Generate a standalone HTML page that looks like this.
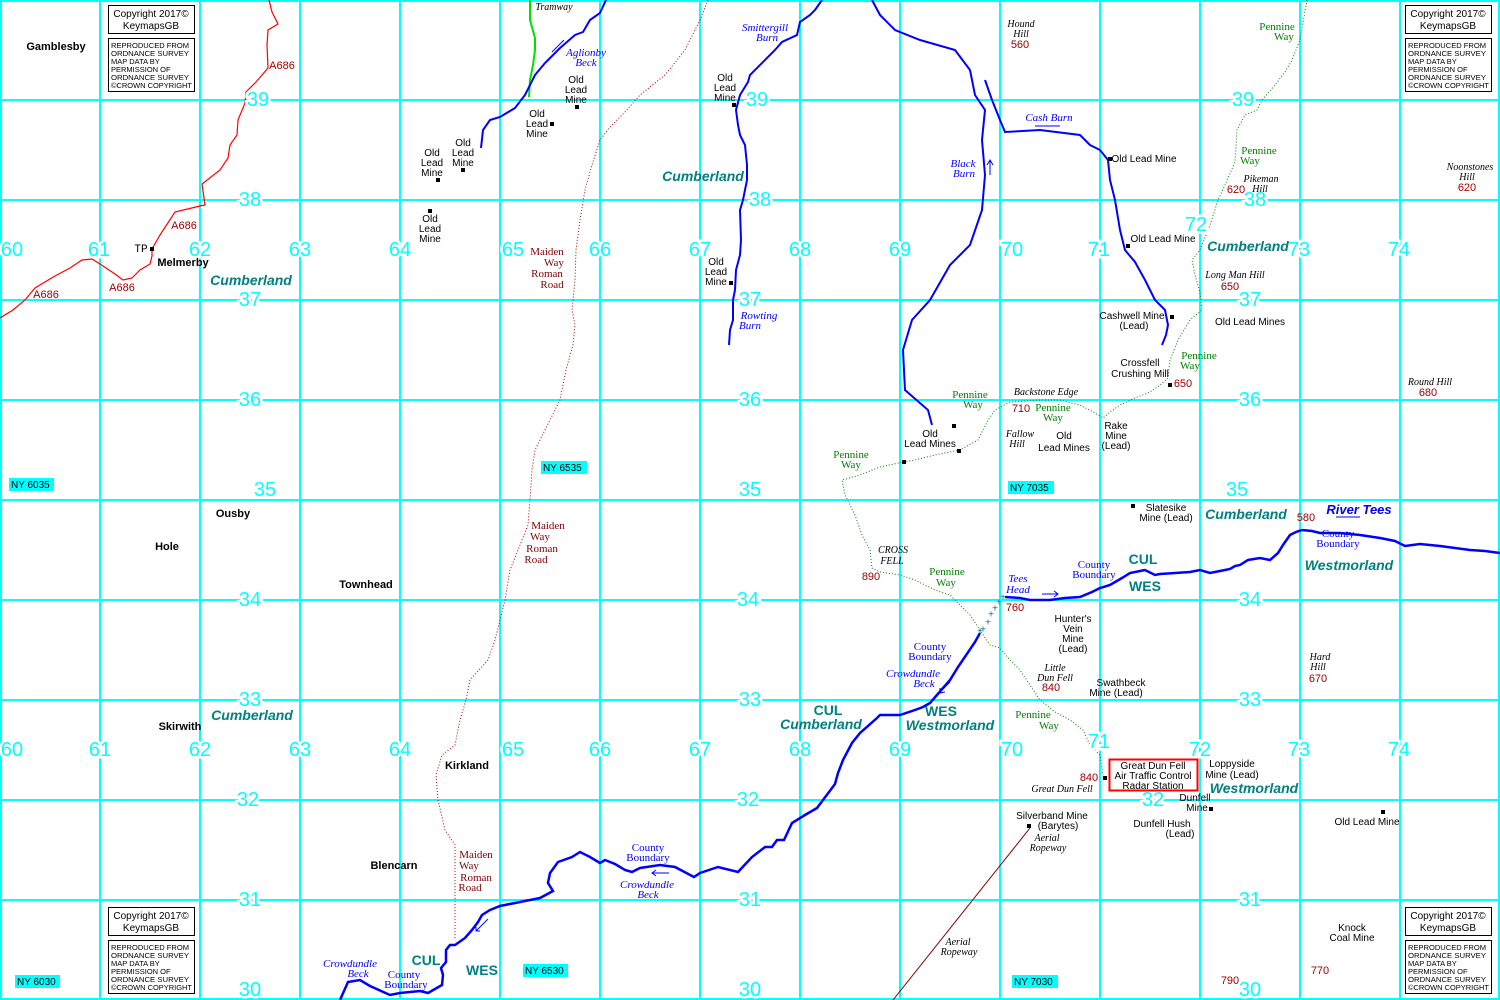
<!DOCTYPE html>
<html><head><meta charset="utf-8"><style>
html,body{margin:0;padding:0;background:#fff;}
svg{display:block;font-family:"Liberation Sans",Arial,sans-serif;}
.g{fill:#00ffff;font-size:20px;text-anchor:middle;dominant-baseline:central;stroke:#fff;stroke-width:5px;paint-order:stroke;}
.t{font-size:10px;fill:#000;text-anchor:middle;}
.b{font-size:11px;font-weight:bold;fill:#000;text-anchor:middle;}
.r{font-size:11px;fill:#0000ff;font-style:italic;text-anchor:middle;font-family:"Liberation Serif",serif;}
.rs{font-size:11px;fill:#0000ff;text-anchor:middle;font-family:"Liberation Serif",serif;}
.h{font-size:11px;fill:#a00000;text-anchor:middle;}
.m{font-size:11px;fill:#800000;text-anchor:middle;font-family:"Liberation Serif",serif;}
.p{font-size:11px;fill:#008000;text-anchor:middle;font-family:"Liberation Serif",serif;}
.c{font-size:14px;fill:#008080;font-weight:bold;font-style:italic;text-anchor:middle;}
.cc{font-size:14px;fill:#008080;font-weight:bold;text-anchor:middle;}
.i{font-size:10px;fill:#000;font-style:italic;text-anchor:middle;font-family:"Liberation Serif",serif;}
.ny{font-size:10px;fill:#000;}
.cp{font-size:10px;fill:#000;}
.cs{font-size:7.5px;fill:#000;}
</style></head><body>
<svg width="1500" height="1000" viewBox="0 0 1500 1000" xmlns="http://www.w3.org/2000/svg">
<rect width="1500" height="1000" fill="#fff"/>
<g stroke="#00ffff" stroke-width="2">
<line x1="1" y1="0" x2="1" y2="1000"/><line x1="100" y1="0" x2="100" y2="1000"/><line x1="200" y1="0" x2="200" y2="1000"/><line x1="300" y1="0" x2="300" y2="1000"/><line x1="400" y1="0" x2="400" y2="1000"/><line x1="500" y1="0" x2="500" y2="1000"/><line x1="600" y1="0" x2="600" y2="1000"/><line x1="700" y1="0" x2="700" y2="1000"/><line x1="800" y1="0" x2="800" y2="1000"/><line x1="900" y1="0" x2="900" y2="1000"/><line x1="1000" y1="0" x2="1000" y2="1000"/><line x1="1100" y1="0" x2="1100" y2="1000"/><line x1="1200" y1="0" x2="1200" y2="1000"/><line x1="1300" y1="0" x2="1300" y2="1000"/><line x1="1400" y1="0" x2="1400" y2="1000"/><line x1="1499" y1="0" x2="1499" y2="1000"/>
<line x1="0" y1="1" x2="1500" y2="1"/><line x1="0" y1="100" x2="1500" y2="100"/><line x1="0" y1="200" x2="1500" y2="200"/><line x1="0" y1="300" x2="1500" y2="300"/><line x1="0" y1="400" x2="1500" y2="400"/><line x1="0" y1="500" x2="1500" y2="500"/><line x1="0" y1="600" x2="1500" y2="600"/><line x1="0" y1="700" x2="1500" y2="700"/><line x1="0" y1="800" x2="1500" y2="800"/><line x1="0" y1="900" x2="1500" y2="900"/><line x1="0" y1="999" x2="1500" y2="999"/>
</g>

<polyline fill="none" stroke="#ff0000" stroke-width="1.2" points="0,318 13,310 25,300 35,288 55,276 70,268 82,260 92,259 100,264 115,274 123,280 132,278 140,270 150,264 152,256 152,249 160,235 175,212 200,206 205,205 202,184 220,170 228,158 230,145 237,135 238,120 245,103 246,92 256,82 268,68 267,45 268,30 278,24 272,12 269,0"/>
<polyline fill="none" stroke="#b00000" stroke-width="1" stroke-dasharray="1,2" points="708,0 700,20 685,50 665,75 640,95 625,112 610,127 600,140 592,165 585,190 580,220 576,250 575,280 572,310 575,325 573,345 566,370 560,400 545,430 535,450 532,470 530,500 528,525 520,545 510,570 505,600 495,640 488,660 470,680 466,700 460,720 455,745 442,755 436,775 438,800 445,830 455,845 455,940"/>
<polyline fill="none" stroke="#00e000" stroke-width="2" points="530,0 530,20 535,38 535,50 533,65 530,80 529,97"/>
<polyline fill="none" stroke="#0000ff" stroke-width="2" points="606,0 600,13 590,20 583,32 575,35 560,48 545,63 535,75 525,95 515,108 500,117 490,120 483,130 481,148"/>
<line x1="552" y1="52" x2="564" y2="40" stroke="#0000ff"/>
<polyline fill="none" stroke="#0000ff" stroke-width="2" points="822,0 815,10 810,15 800,22 797,35 782,42 775,50 750,75 748,82 740,95 736,110 738,125 740,135 745,145 747,165 747,180 743,200 740,210 741,240 740,255 736,270 735,290 733,300 733,320 730,330 729,345"/>
<polyline fill="none" stroke="#0000ff" stroke-width="2" points="872,0 880,15 895,30 920,40 955,50 970,70 975,95 985,110 982,140 985,175 982,210 970,245 950,265 930,300 912,320 903,350 905,390 928,410 932,425"/>
<polyline fill="none" stroke="#0000ff" stroke-width="2" points="985,80 992,100 1000,120 1005,132 1040,130 1080,135 1090,145 1100,150 1108,160 1110,180 1115,200 1120,230 1125,250 1135,262 1145,280 1155,300 1165,310 1168,325 1166,335 1162,345"/>
<line x1="990" y1="175" x2="990" y2="160" stroke="#0000ff"/><polyline points="987,165 990,160 993,165" fill="none" stroke="#0000ff"/>
<line x1="1060" y1="126" x2="1035" y2="126" stroke="#0000ff"/>
<polyline fill="none" stroke="#0000ff" stroke-width="2.5" points="340,1000 348,982 360,980 370,986 390,995 400,993 420,991 428,993 442,985 443,975 441,968 446,962 446,950 450,945 455,945 465,938 472,930 478,922 482,915 490,910 500,906 510,904 540,898 553,891 548,883 550,873 558,862 572,857 580,852 590,857 600,863 605,860 615,864 625,870 632,872 640,868 660,865 675,867 694,877 700,873 718,867 738,872 752,857 765,847 772,847 777,840 784,840 792,823 805,815 817,808 832,788 835,784 838,773 843,760 852,743 860,733 877,718 880,715 900,715 915,710 923,707 930,703 950,680 958,667 975,642 980,633"/>
<polyline fill="none" stroke="#0000ff" stroke-width="2.5" points="1005,597 1020,598 1030,600 1050,600 1065,598 1080,597 1092,592 1100,588 1110,585 1122,578 1130,573 1145,570 1155,575 1160,574 1190,572 1200,570 1210,573 1220,571 1230,569 1235,566 1240,565 1248,560 1260,558 1270,560 1278,553 1283,545 1290,535 1296,532 1302,530 1312,531 1320,533 1340,533 1360,535 1380,538 1395,541 1405,546 1420,544 1440,546 1455,548 1470,550 1485,551 1500,553"/>
<line x1="1042" y1="594" x2="1058" y2="594" stroke="#0000ff"/><polyline points="1054,591 1058,594 1054,597" fill="none" stroke="#0000ff"/>
<line x1="1336" y1="517" x2="1360" y2="517" stroke="#0000ff"/>
<line x1="943" y1="689" x2="950" y2="682" stroke="#0000ff"/><polyline points="940,688 940,693 945,692" fill="none" stroke="#0000ff"/>
<line x1="669" y1="873" x2="652" y2="873" stroke="#0000ff"/><polyline points="656,870 652,873 656,876" fill="none" stroke="#0000ff"/>
<line x1="488" y1="919" x2="476" y2="931" stroke="#0000ff"/><polyline points="476,927 476,931 480,931" fill="none" stroke="#0000ff"/>
<g fill="#008080" font-size="10" text-anchor="middle" dominant-baseline="central"><text x="983" y="630">+</text><text x="988" y="623">+</text><text x="991" y="615">+</text><text x="995" y="609">+</text><text x="999" y="603">+</text><text x="1003" y="598">+</text><text x="980" y="632">+</text></g>
<polyline fill="none" stroke="#008000" stroke-width="1" stroke-dasharray="1,2" points="1307,0 1300,40 1292,60 1285,72 1275,85 1262,100 1257,110 1245,115 1237,130 1235,162 1225,185 1218,200 1210,225 1200,250 1192,260 1195,275 1200,292 1202,310 1190,320 1178,340 1170,360 1168,378 1160,385 1150,392 1135,398 1120,405 1110,412 1103,418 1095,413 1080,405 1060,400 1040,400 1010,402 995,410 988,420 978,440 960,450 950,452 935,455 915,460 903,462 880,467 860,475 842,480 845,495 855,515 862,535 870,550 872,568 880,572 900,575 915,580 935,590 950,595 960,605 970,615 980,630 990,645 1000,648 1010,660 1020,670 1030,685 1040,700 1055,712 1070,720 1083,730 1090,745 1100,755 1103,775"/>
<line x1="1030" y1="828" x2="893" y2="1000" stroke="#800000" stroke-width="1"/>

<g class="g">
<text x="12" y="250">60</text><text x="99" y="250">61</text><text x="200" y="250">62</text><text x="300" y="250">63</text><text x="400" y="250">64</text><text x="513" y="250">65</text><text x="600" y="250">66</text><text x="700" y="250">67</text><text x="800" y="250">68</text><text x="900" y="250">69</text><text x="1012" y="250">70</text><text x="1099" y="250">71</text><text x="1196" y="225">72</text><text x="1299" y="250">73</text><text x="1399" y="250">74</text>
<text x="12" y="750">60</text><text x="100" y="750">61</text><text x="200" y="750">62</text><text x="300" y="750">63</text><text x="400" y="750">64</text><text x="513" y="750">65</text><text x="600" y="750">66</text><text x="700" y="750">67</text><text x="800" y="750">68</text><text x="900" y="750">69</text><text x="1012" y="750">70</text><text x="1099" y="742">71</text><text x="1200" y="750">72</text><text x="1299" y="750">73</text><text x="1399" y="750">74</text>
<text x="258" y="100">39</text><text x="250" y="200">38</text><text x="250" y="300">37</text><text x="250" y="400">36</text><text x="265" y="490">35</text><text x="250" y="600">34</text><text x="250" y="700">33</text><text x="248" y="800">32</text><text x="250" y="900">31</text><text x="250" y="990">30</text>
<text x="757" y="100">39</text><text x="760" y="200">38</text><text x="750" y="300">37</text><text x="750" y="400">36</text><text x="750" y="490">35</text><text x="748" y="600">34</text><text x="750" y="700">33</text><text x="748" y="800">32</text><text x="750" y="900">31</text><text x="750" y="990">30</text>
<text x="1243" y="100">39</text><text x="1255" y="200">38</text><text x="1250" y="300">37</text><text x="1250" y="400">36</text><text x="1237" y="490">35</text><text x="1250" y="600">34</text><text x="1250" y="700">33</text><text x="1153" y="800">32</text><text x="1250" y="900">31</text><text x="1250" y="990">30</text>
</g>

<defs>
<g id="cpb"><rect x="0.5" y="0.5" width="86" height="28" fill="#fff" stroke="#000"/><text class="cp" x="43" y="12" text-anchor="middle">Copyright 2017©</text><text class="cp" x="43" y="24" text-anchor="middle">KeymapsGB</text><rect x="0.5" y="33.5" width="86" height="53" fill="#fff" stroke="#000"/></g>
</defs>
<g transform="translate(108,5)"><use href="#cpb"/><text class="cs"><tspan x="3" y="43" textLength="78" lengthAdjust="spacingAndGlyphs">REPRODUCED FROM</tspan><tspan x="3" y="51" textLength="78" lengthAdjust="spacingAndGlyphs">ORDNANCE SURVEY</tspan><tspan x="3" y="59">MAP DATA BY</tspan><tspan x="3" y="67">PERMISSION OF</tspan><tspan x="3" y="75" textLength="78" lengthAdjust="spacingAndGlyphs">ORDNANCE SURVEY</tspan><tspan x="3" y="83" textLength="81" lengthAdjust="spacingAndGlyphs">©CROWN COPYRIGHT</tspan></text></g>
<g transform="translate(1405,5)"><use href="#cpb"/><text class="cs"><tspan x="3" y="43" textLength="78" lengthAdjust="spacingAndGlyphs">REPRODUCED FROM</tspan><tspan x="3" y="51" textLength="78" lengthAdjust="spacingAndGlyphs">ORDNANCE SURVEY</tspan><tspan x="3" y="59">MAP DATA BY</tspan><tspan x="3" y="67">PERMISSION OF</tspan><tspan x="3" y="75" textLength="78" lengthAdjust="spacingAndGlyphs">ORDNANCE SURVEY</tspan><tspan x="3" y="83" textLength="81" lengthAdjust="spacingAndGlyphs">©CROWN COPYRIGHT</tspan></text></g>
<g transform="translate(108,907)"><use href="#cpb"/><text class="cs"><tspan x="3" y="43" textLength="78" lengthAdjust="spacingAndGlyphs">REPRODUCED FROM</tspan><tspan x="3" y="51" textLength="78" lengthAdjust="spacingAndGlyphs">ORDNANCE SURVEY</tspan><tspan x="3" y="59">MAP DATA BY</tspan><tspan x="3" y="67">PERMISSION OF</tspan><tspan x="3" y="75" textLength="78" lengthAdjust="spacingAndGlyphs">ORDNANCE SURVEY</tspan><tspan x="3" y="83" textLength="81" lengthAdjust="spacingAndGlyphs">©CROWN COPYRIGHT</tspan></text></g>
<g transform="translate(1405,907)"><use href="#cpb"/><text class="cs"><tspan x="3" y="43" textLength="78" lengthAdjust="spacingAndGlyphs">REPRODUCED FROM</tspan><tspan x="3" y="51" textLength="78" lengthAdjust="spacingAndGlyphs">ORDNANCE SURVEY</tspan><tspan x="3" y="59">MAP DATA BY</tspan><tspan x="3" y="67">PERMISSION OF</tspan><tspan x="3" y="75" textLength="78" lengthAdjust="spacingAndGlyphs">ORDNANCE SURVEY</tspan><tspan x="3" y="83" textLength="81" lengthAdjust="spacingAndGlyphs">©CROWN COPYRIGHT</tspan></text></g>

<g fill="#00ffff">
<rect x="9" y="478" width="45" height="13"/><rect x="541" y="461" width="46" height="13"/><rect x="1008" y="481" width="46" height="13"/><rect x="15" y="975" width="45" height="13"/><rect x="523" y="964" width="45" height="13"/><rect x="1012" y="975" width="46" height="13"/>
</g>
<g class="ny"><text x="11" y="488">NY 6035</text><text x="543" y="471">NY 6535</text><text x="1010" y="491">NY 7035</text><text x="17" y="985">NY 6030</text><text x="525" y="974">NY 6530</text><text x="1014" y="985">NY 7030</text></g>

<g fill="#000">
<rect x="150" y="247" width="4" height="4"/><rect x="436" y="178" width="4" height="4"/><rect x="461" y="168" width="4" height="4"/><rect x="428" y="209" width="4" height="4"/><rect x="550" y="122" width="4" height="4"/><rect x="575" y="105" width="4" height="4"/><rect x="732" y="103" width="4" height="4"/><rect x="729" y="281" width="4" height="4"/><rect x="1108" y="157" width="4" height="4"/><rect x="1126" y="244" width="4" height="4"/><rect x="1170" y="315" width="4" height="4"/><rect x="1168" y="383" width="4" height="4"/><rect x="952" y="424" width="4" height="4"/><rect x="957" y="449" width="4" height="4"/><rect x="902" y="460" width="4" height="4"/><rect x="1131" y="504" width="4" height="4"/><rect x="1103" y="776" width="4" height="4"/><rect x="1209" y="807" width="4" height="4"/><rect x="1381" y="810" width="4" height="4"/><rect x="1027" y="824" width="4" height="4"/>
</g>

<g class="b"><text x="56" y="50">Gamblesby</text><text x="183" y="266">Melmerby</text><text x="233" y="517">Ousby</text><text x="167" y="550">Hole</text><text x="366" y="588">Townhead</text><text x="180" y="730">Skirwith</text><text x="467" y="769">Kirkland</text><text x="394" y="869">Blencarn</text></g>
<text x="141" y="252" font-size="11" text-anchor="middle" font-family="Liberation Mono,monospace">TP</text>

<g class="h"><text x="282" y="69">A686</text><text x="184" y="229">A686</text><text x="122" y="291">A686</text><text x="46" y="298">A686</text></g>

<g class="t">
<text x="432" y="156">Old</text><text x="432" y="166">Lead</text><text x="432" y="176">Mine</text>
<text x="463" y="146">Old</text><text x="463" y="156">Lead</text><text x="463" y="166">Mine</text>
<text x="430" y="222">Old</text><text x="430" y="232">Lead</text><text x="430" y="242">Mine</text>
<text x="537" y="117">Old</text><text x="537" y="127">Lead</text><text x="537" y="137">Mine</text>
<text x="576" y="83">Old</text><text x="576" y="93">Lead</text><text x="576" y="103">Mine</text>
<text x="725" y="81">Old</text><text x="725" y="91">Lead</text><text x="725" y="101">Mine</text>
<text x="716" y="265">Old</text><text x="716" y="275">Lead</text><text x="716" y="285">Mine</text>
<text x="1144" y="162">Old Lead Mine</text><text x="1163" y="242">Old Lead Mine</text>
<text x="1132" y="319">Cashwell Mine</text><text x="1134" y="329">(Lead)</text>
<text x="1250" y="325">Old Lead Mines</text>
<text x="1140" y="366">Crossfell</text><text x="1140" y="377">Crushing Mill</text>
<text x="930" y="437">Old</text><text x="930" y="447">Lead Mines</text>
<text x="1064" y="439">Old</text><text x="1064" y="451">Lead Mines</text>
<text x="1116" y="429">Rake</text><text x="1116" y="439">Mine</text><text x="1116" y="449">(Lead)</text>
<text x="1166" y="511">Slatesike</text><text x="1166" y="521">Mine (Lead)</text>
<text x="1073" y="622">Hunter's</text><text x="1073" y="632">Vein</text><text x="1073" y="642">Mine</text><text x="1073" y="652">(Lead)</text>
<text x="1121" y="686">Swathbeck</text><text x="1116" y="696">Mine (Lead)</text>
<text x="1232" y="767">Loppyside</text><text x="1232" y="778">Mine (Lead)</text>
<text x="1195" y="801">Dunfell</text><text x="1197" y="811">Mine</text>
<text x="1052" y="819">Silverband Mine</text><text x="1058" y="829">(Barytes)</text>
<text x="1162" y="827">Dunfell Hush</text><text x="1180" y="837">(Lead)</text>
<text x="1367" y="825">Old Lead Mine</text>
<text x="1352" y="931">Knock</text><text x="1352" y="941">Coal Mine</text>
</g>
<rect x="1109.5" y="759.5" width="88" height="31" fill="none" stroke="#ff0000" stroke-width="2"/>
<g class="t"><text x="1153" y="769">Great Dun Fell</text><text x="1153" y="779">Air Traffic Control</text><text x="1153" y="789">Radar Station</text></g>

<g class="i">
<text x="1021" y="27">Hound</text><text x="1021" y="37">Hill</text>
<text x="1261" y="182">Pikeman</text><text x="1260" y="192">Hill</text>
<text x="1470" y="170">Noonstones</text><text x="1467" y="180">Hill</text>
<text x="1235" y="278">Long Man Hill</text>
<text x="1430" y="385">Round Hill</text>
<text x="1046" y="395">Backstone Edge</text>
<text x="1020" y="437">Fallow</text><text x="1017" y="447">Hill</text>
<text x="893" y="553">CROSS</text><text x="892" y="564">FELL</text>
<text x="1055" y="671">Little</text><text x="1055" y="681">Dun Fell</text>
<text x="1062" y="792">Great Dun Fell</text>
<text x="1320" y="660">Hard</text><text x="1318" y="670">Hill</text>
<text x="554" y="10">Tramway</text>
<text x="1047" y="841">Aerial</text><text x="1048" y="851">Ropeway</text>
<text x="958" y="945">Aerial</text><text x="959" y="955">Ropeway</text>
</g>
<g class="h">
<text x="1020" y="48">560</text><text x="1236" y="193">620</text><text x="1467" y="191">620</text><text x="1230" y="290">650</text><text x="1183" y="387">650</text><text x="1428" y="396">680</text><text x="1021" y="412">710</text><text x="871" y="580">890</text><text x="1015" y="611">760</text><text x="1051" y="691">840</text><text x="1089" y="781">840</text><text x="1318" y="682">670</text><text x="1306" y="521">580</text><text x="1230" y="984">790</text><text x="1320" y="974">770</text>
</g>
<g class="r">
<text x="586" y="56">Aglionby</text><text x="586" y="66">Beck</text>
<text x="765" y="31">Smittergill</text><text x="767" y="41">Burn</text>
<text x="759" y="319">Rowting</text><text x="750" y="329">Burn</text>
<text x="963" y="167">Black</text><text x="964" y="177">Burn</text>
<text x="1049" y="121">Cash Burn</text>
<text x="1018" y="582">Tees</text><text x="1018" y="593">Head</text>
<text x="913" y="677">Crowdundle</text><text x="924" y="687">Beck</text>
<text x="647" y="888">Crowdundle</text><text x="648" y="898">Beck</text>
<text x="350" y="967">Crowdundle</text><text x="358" y="977">Beck</text>
</g>
<text x="1359" y="514" font-size="13" font-weight="bold" font-style="italic" fill="#0000ff" text-anchor="middle">River Tees</text>
<g class="rs">
<text x="1094" y="568">County</text><text x="1094" y="578">Boundary</text>
<text x="1338" y="537">County</text><text x="1338" y="547">Boundary</text>
<text x="930" y="650">County</text><text x="930" y="660">Boundary</text>
<text x="648" y="851">County</text><text x="648" y="861">Boundary</text>
<text x="404" y="978">County</text><text x="406" y="988">Boundary</text>
</g>
<g class="m">
<text x="547" y="255">Maiden</text><text x="554" y="266">Way</text><text x="547" y="277">Roman</text><text x="552" y="288">Road</text>
<text x="548" y="529">Maiden</text><text x="540" y="540">Way</text><text x="542" y="552">Roman</text><text x="536" y="563">Road</text>
<text x="476" y="858">Maiden</text><text x="469" y="869">Way</text><text x="476" y="881">Roman</text><text x="470" y="891">Road</text>
</g>
<g class="p">
<text x="1277" y="30">Pennine</text><text x="1284" y="40">Way</text>
<text x="1259" y="154">Pennine</text><text x="1250" y="164">Way</text>
<text x="1199" y="359">Pennine</text><text x="1190" y="369">Way</text>
<text x="970" y="398">Pennine</text><text x="973" y="408">Way</text>
<text x="1053" y="411">Pennine</text><text x="1053" y="421">Way</text>
<text x="851" y="458">Pennine</text><text x="851" y="468">Way</text>
<text x="947" y="575">Pennine</text><text x="946" y="586">Way</text>
<text x="1033" y="718">Pennine</text><text x="1049" y="729">Way</text>
</g>
<g class="c">
<text x="251" y="285">Cumberland</text><text x="703" y="181">Cumberland</text><text x="1248" y="251">Cumberland</text><text x="1246" y="519">Cumberland</text><text x="1349" y="570">Westmorland</text><text x="252" y="720">Cumberland</text><text x="821" y="729">Cumberland</text><text x="950" y="730">Westmorland</text><text x="1254" y="793">Westmorland</text>
</g>
<g class="cc">
<text x="1143" y="564">CUL</text><text x="1145" y="591">WES</text><text x="828" y="715">CUL</text><text x="941" y="716">WES</text><text x="426" y="965">CUL</text><text x="482" y="975">WES</text>
</g>
</svg>
</body></html>
